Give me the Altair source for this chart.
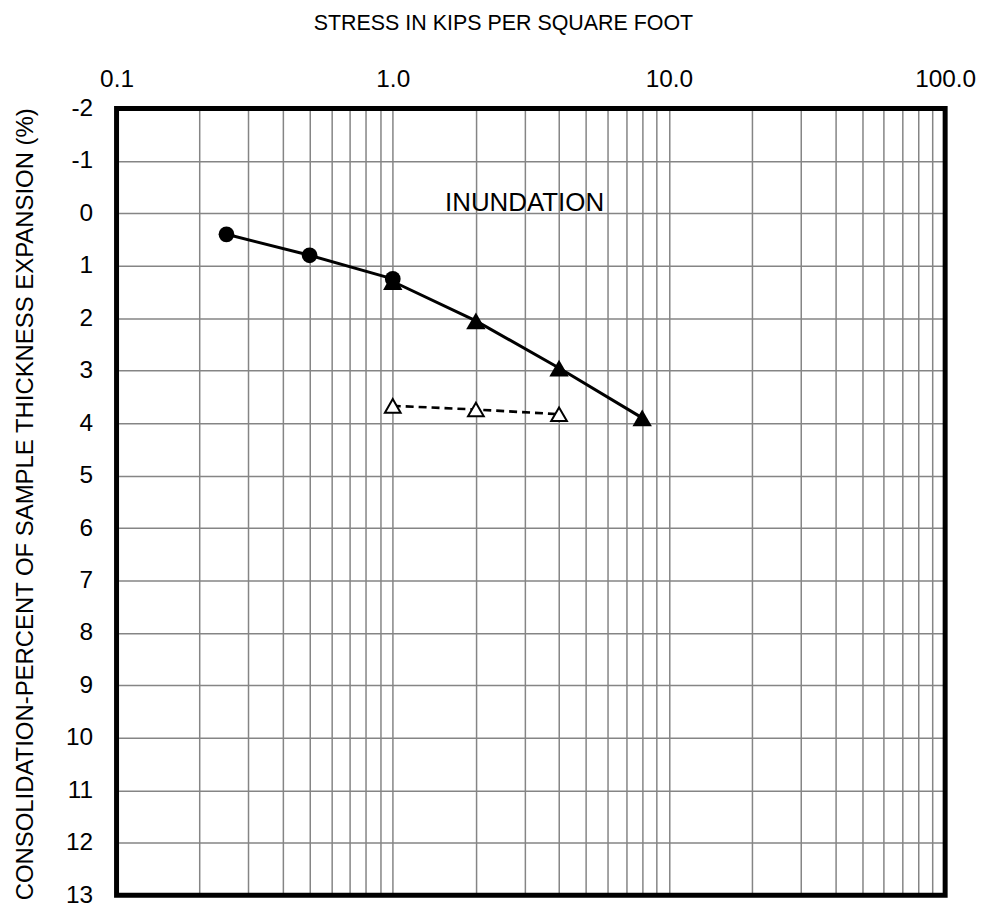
import altair as alt
import pandas as pd

# Loading curve before inundation (filled circles)
circ_x = [0.25, 0.5, 1.0]
circ_y = [0.4, 0.8, 1.25]
# Loading after inundation (filled triangles)
tri_x = [1.0, 2.0, 4.0, 8.0]
tri_y = [1.3, 2.05, 2.95, 3.9]
# Rebound (open triangles, dashed)
reb_x = [1.0, 2.0, 4.0]
reb_y = [3.67, 3.74, 3.83]

x_ticks = [0.1, 0.2, 0.3, 0.4, 0.5, 0.6, 0.7, 0.8, 0.9,
           1, 2, 3, 4, 5, 6, 7, 8, 9,
           10, 20, 30, 40, 50, 60, 70, 80, 90, 100]
x_labels = [0.1, 1.0, 10.0, 100.0]
y_ticks = list(range(-2, 14))

circ = pd.DataFrame({"x": circ_x, "y": circ_y})
tri = pd.DataFrame({"x": tri_x, "y": tri_y})
reb = pd.DataFrame({"x": reb_x, "y": reb_y})

FONT = "Liberation Sans"
W, H = 832, 790

xscale = alt.Scale(type="log", domain=[0.1, 100], nice=False)
yscale = alt.Scale(domain=[-2, 13], reverse=True, nice=False, zero=False)

label_expr = ("abs(log(datum.value)/LN10 - round(log(datum.value)/LN10)) < 0.001 "
              "? format(datum.value, '.1f') : ''")

xax = alt.X("x:Q", scale=xscale,
            axis=alt.Axis(orient="top", values=x_ticks, labelExpr=label_expr,
                          labelOverlap=False, ticks=False, domain=False,
                          grid=True, gridColor="#858585", gridWidth=1.5,
                          labelFont=FONT, labelFontSize=24.5, labelColor="black",
                          labelAlign="center", labelPadding=17, labelFlush=False,
                          title="STRESS IN KIPS PER SQUARE FOOT",
                          titleFont=FONT, titleFontSize=21.5, titleFontWeight="normal",
                          titleColor="black", titleX=388, titleY=-79,
                          titleAlign="center", titleBaseline="alphabetic"))
yax = alt.Y("y:Q", scale=yscale,
            axis=alt.Axis(values=y_ticks, labelExpr="'' + datum.value", ticks=False, domain=False,
                          grid=True, gridColor="#858585", gridWidth=1.5,
                          labelFont=FONT, labelFontSize=24.5, labelColor="black",
                          labelPadding=24, labelOverlap=False, labelFlush=False,
                          title="CONSOLIDATION-PERCENT OF SAMPLE THICKNESS EXPANSION (%)",
                          titleFont=FONT, titleFontSize=24, titleFontWeight="normal",
                          titleColor="black", titleX=-84, titleY=H / 2 + 2, titleAngle=270,
                          titleAlign="center", titleBaseline="alphabetic"))

base_circ = alt.Chart(circ).encode(x=xax, y=yax)
base_tri = alt.Chart(tri).encode(x=alt.X("x:Q", scale=xscale), y=alt.Y("y:Q", scale=yscale))
base_reb = alt.Chart(reb).encode(x=alt.X("x:Q", scale=xscale), y=alt.Y("y:Q", scale=yscale))

l1 = base_circ.mark_line(color="black", strokeWidth=3)
l2 = base_tri.mark_line(color="black", strokeWidth=3)
l3 = base_reb.mark_line(color="black", strokeWidth=2.6, strokeDash=[8, 5])
p1 = base_circ.mark_point(shape="circle", filled=True, color="black", size=250, opacity=1)
p2 = base_tri.mark_point(shape="triangle-up", filled=True, color="black", size=380, opacity=1)
p3 = base_reb.mark_point(shape="triangle-up", filled=True, fill="white", stroke="black",
                         strokeWidth=2, size=250, opacity=1)

note = alt.Chart(pd.DataFrame({"x": [3.0], "y": [-0.2], "t": ["INUNDATION"]})).mark_text(
    font=FONT, fontSize=26, color="black", align="center", baseline="middle"
).encode(x=alt.X("x:Q", scale=xscale), y=alt.Y("y:Q", scale=yscale), text="t:N")

border = alt.Chart(pd.DataFrame({"k": [0]})).mark_rect(
    fill=None, stroke="black", strokeWidth=5, filled=False
).encode(x=alt.value(0), x2=alt.value(W), y=alt.value(0), y2=alt.value(H))

chart = alt.layer(l1, l2, l3, p1, p2, p3, note, border).properties(
    width=W, height=H,
    autosize=alt.AutoSizeParams(type="none"),
    padding={"left": 109, "top": 99, "right": 36, "bottom": 10},
).configure(background="white").configure_view(stroke=None)

chart.save("out.html", embed_options={"renderer": "svg", "actions": False})
